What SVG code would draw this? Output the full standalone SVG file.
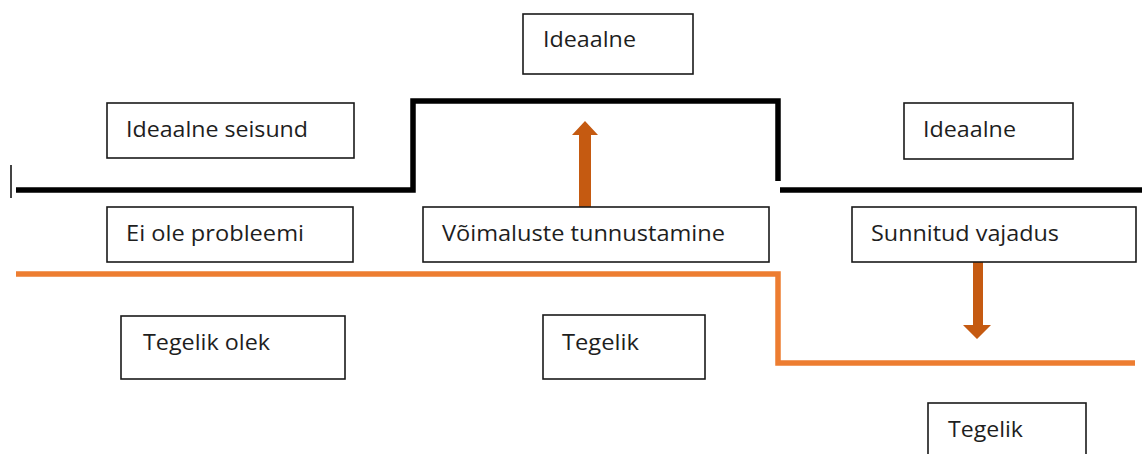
<svg xmlns="http://www.w3.org/2000/svg" width="1142" height="454" viewBox="0 0 1142 454">
  <defs>
    <style>
      .box rect { fill: #ffffff; stroke: #1a1a1a; stroke-width: 1.6; }
      .box text { font-family: "Open Sans", "Noto Sans", "Liberation Sans", sans-serif; font-size: 21px; fill: #1e1e1e; }
      .ideal { fill: none; stroke: #000000; stroke-width: 5.5; stroke-linejoin: miter; }
      .actual { fill: none; stroke: #ED7D31; stroke-width: 5.5; stroke-linejoin: miter; }
      .shift { fill: #C55A11; }
    </style>
  </defs>

  <!-- level lines -->
  <g id="connectors">
    <line x1="11" y1="165" x2="11" y2="198" stroke="#444444" stroke-width="2"/>
    <polyline class="ideal" points="16,190 413,190 413,101 778,101 778,181"/>
    <line class="ideal" x1="780" y1="190" x2="1142" y2="190"/>
    <polyline class="actual" points="16,274 778,274 778,363 1135,363"/>
    <!-- upward shift arrow -->
    <polygon class="shift" points="579,207 579,135 572,135 585,121 598,135 591,135 591,207"/>
    <!-- downward shift arrow -->
    <polygon class="shift" points="973,262 973,325 963,325 977,339 991,325 983,325 983,262"/>
  </g>

  <g id="ideaalne-top" class="box">
    <rect x="523" y="14" width="170" height="60"/>
    <text x="543" y="47" textLength="93" lengthAdjust="spacingAndGlyphs">Ideaalne</text>
  </g>

  <g id="ideaalne-seisund" class="box">
    <rect x="107" y="103" width="247" height="55"/>
    <text x="126" y="137" textLength="182" lengthAdjust="spacingAndGlyphs">Ideaalne seisund</text>
  </g>

  <g id="ideaalne-right" class="box">
    <rect x="904" y="103" width="169" height="56"/>
    <text x="923" y="137" textLength="93" lengthAdjust="spacingAndGlyphs">Ideaalne</text>
  </g>

  <g id="ei-ole-probleemi" class="box">
    <rect x="107" y="207" width="246" height="55"/>
    <text x="126" y="241" textLength="178" lengthAdjust="spacingAndGlyphs">Ei ole probleemi</text>
  </g>

  <g id="voimaluste-tunnustamine" class="box">
    <rect x="423" y="207" width="346" height="55"/>
    <text x="442" y="241" textLength="283" lengthAdjust="spacingAndGlyphs">Võimaluste tunnustamine</text>
  </g>

  <g id="sunnitud-vajadus" class="box">
    <rect x="852" y="207" width="284" height="55"/>
    <text x="871" y="241" textLength="188" lengthAdjust="spacingAndGlyphs">Sunnitud vajadus</text>
  </g>

  <g id="tegelik-olek" class="box">
    <rect x="121" y="316" width="224" height="63"/>
    <text x="143" y="350" textLength="127" lengthAdjust="spacingAndGlyphs">Tegelik olek</text>
  </g>

  <g id="tegelik-mid" class="box">
    <rect x="543" y="315" width="162" height="64"/>
    <text x="562" y="350" textLength="77" lengthAdjust="spacingAndGlyphs">Tegelik</text>
  </g>

  <g id="tegelik-right" class="box">
    <rect x="928" y="403" width="158" height="60"/>
    <text x="948" y="437" textLength="75" lengthAdjust="spacingAndGlyphs">Tegelik</text>
  </g>
</svg>
